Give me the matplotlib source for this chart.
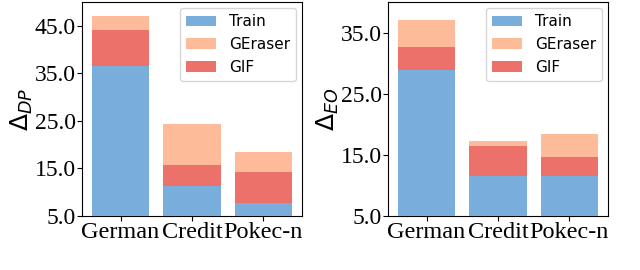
import matplotlib
matplotlib.use("Agg")
import matplotlib.pyplot as plt
import numpy as np

# datasets and methods
datasets = ["German", "Credit", "Pokec-n"]

# Delta_DP (left)
dp_train = [36.6, 11.3, 7.7]
dp_geraser = [47.1, 24.3, 18.5]
dp_gif = [44.2, 15.7, 14.3]

# Delta_EO (right)
eo_train = [28.8, 11.5, 11.6]
eo_geraser = [37.1, 17.3, 18.4]
eo_gif = [32.7, 16.4, 14.6]

c_train = "#79addc"
c_geraser = "#fdbb9a"
c_gif = "#ed716b"

fig = plt.figure(figsize=(6.4, 2.7), dpi=100)
ax1 = fig.add_axes([82 / 640, 54 / 270, 220 / 640, 214 / 270])
ax2 = fig.add_axes([388 / 640, 54 / 270, 220 / 640, 214 / 270])


def draw(ax, train, geraser, gif, ylim, ticks, label):
    x = np.arange(len(datasets))
    # bars overlaid, all starting from zero
    ax.bar(x, geraser, color=c_geraser, label="GEraser", zorder=1)
    ax.bar(x, gif, color=c_gif, label="GIF", zorder=2)
    ax.bar(x, train, color=c_train, label="Train", zorder=3)
    ax.set_ylim(*ylim)
    ax.set_yticks(ticks)
    ax.set_yticklabels(["%.1f" % t for t in ticks], family="Liberation Serif", fontsize=17)
    ax.set_xticks(x)
    ax.set_xticklabels(datasets, family="Liberation Serif", fontsize=17.5)
    ax.tick_params(axis="x", pad=1)
    ax.tick_params(axis="y", pad=1)
    ax.set_ylabel(label, fontsize=18, labelpad=0)
    h, l = ax.get_legend_handles_labels()
    order = [2, 0, 1]
    ax.legend([h[i] for i in order], [l[i] for i in order], loc="upper right",
              fontsize=11, handlelength=2.0, borderaxespad=0.4)


draw(ax1, dp_train, dp_geraser, dp_gif, (5, 50), [5, 15, 25, 35, 45], r"$\Delta_{DP}$")
draw(ax2, eo_train, eo_geraser, eo_gif, (5, 40), [5, 15, 25, 35], r"$\Delta_{EO}$")

fig.savefig("out.png", dpi=100)
